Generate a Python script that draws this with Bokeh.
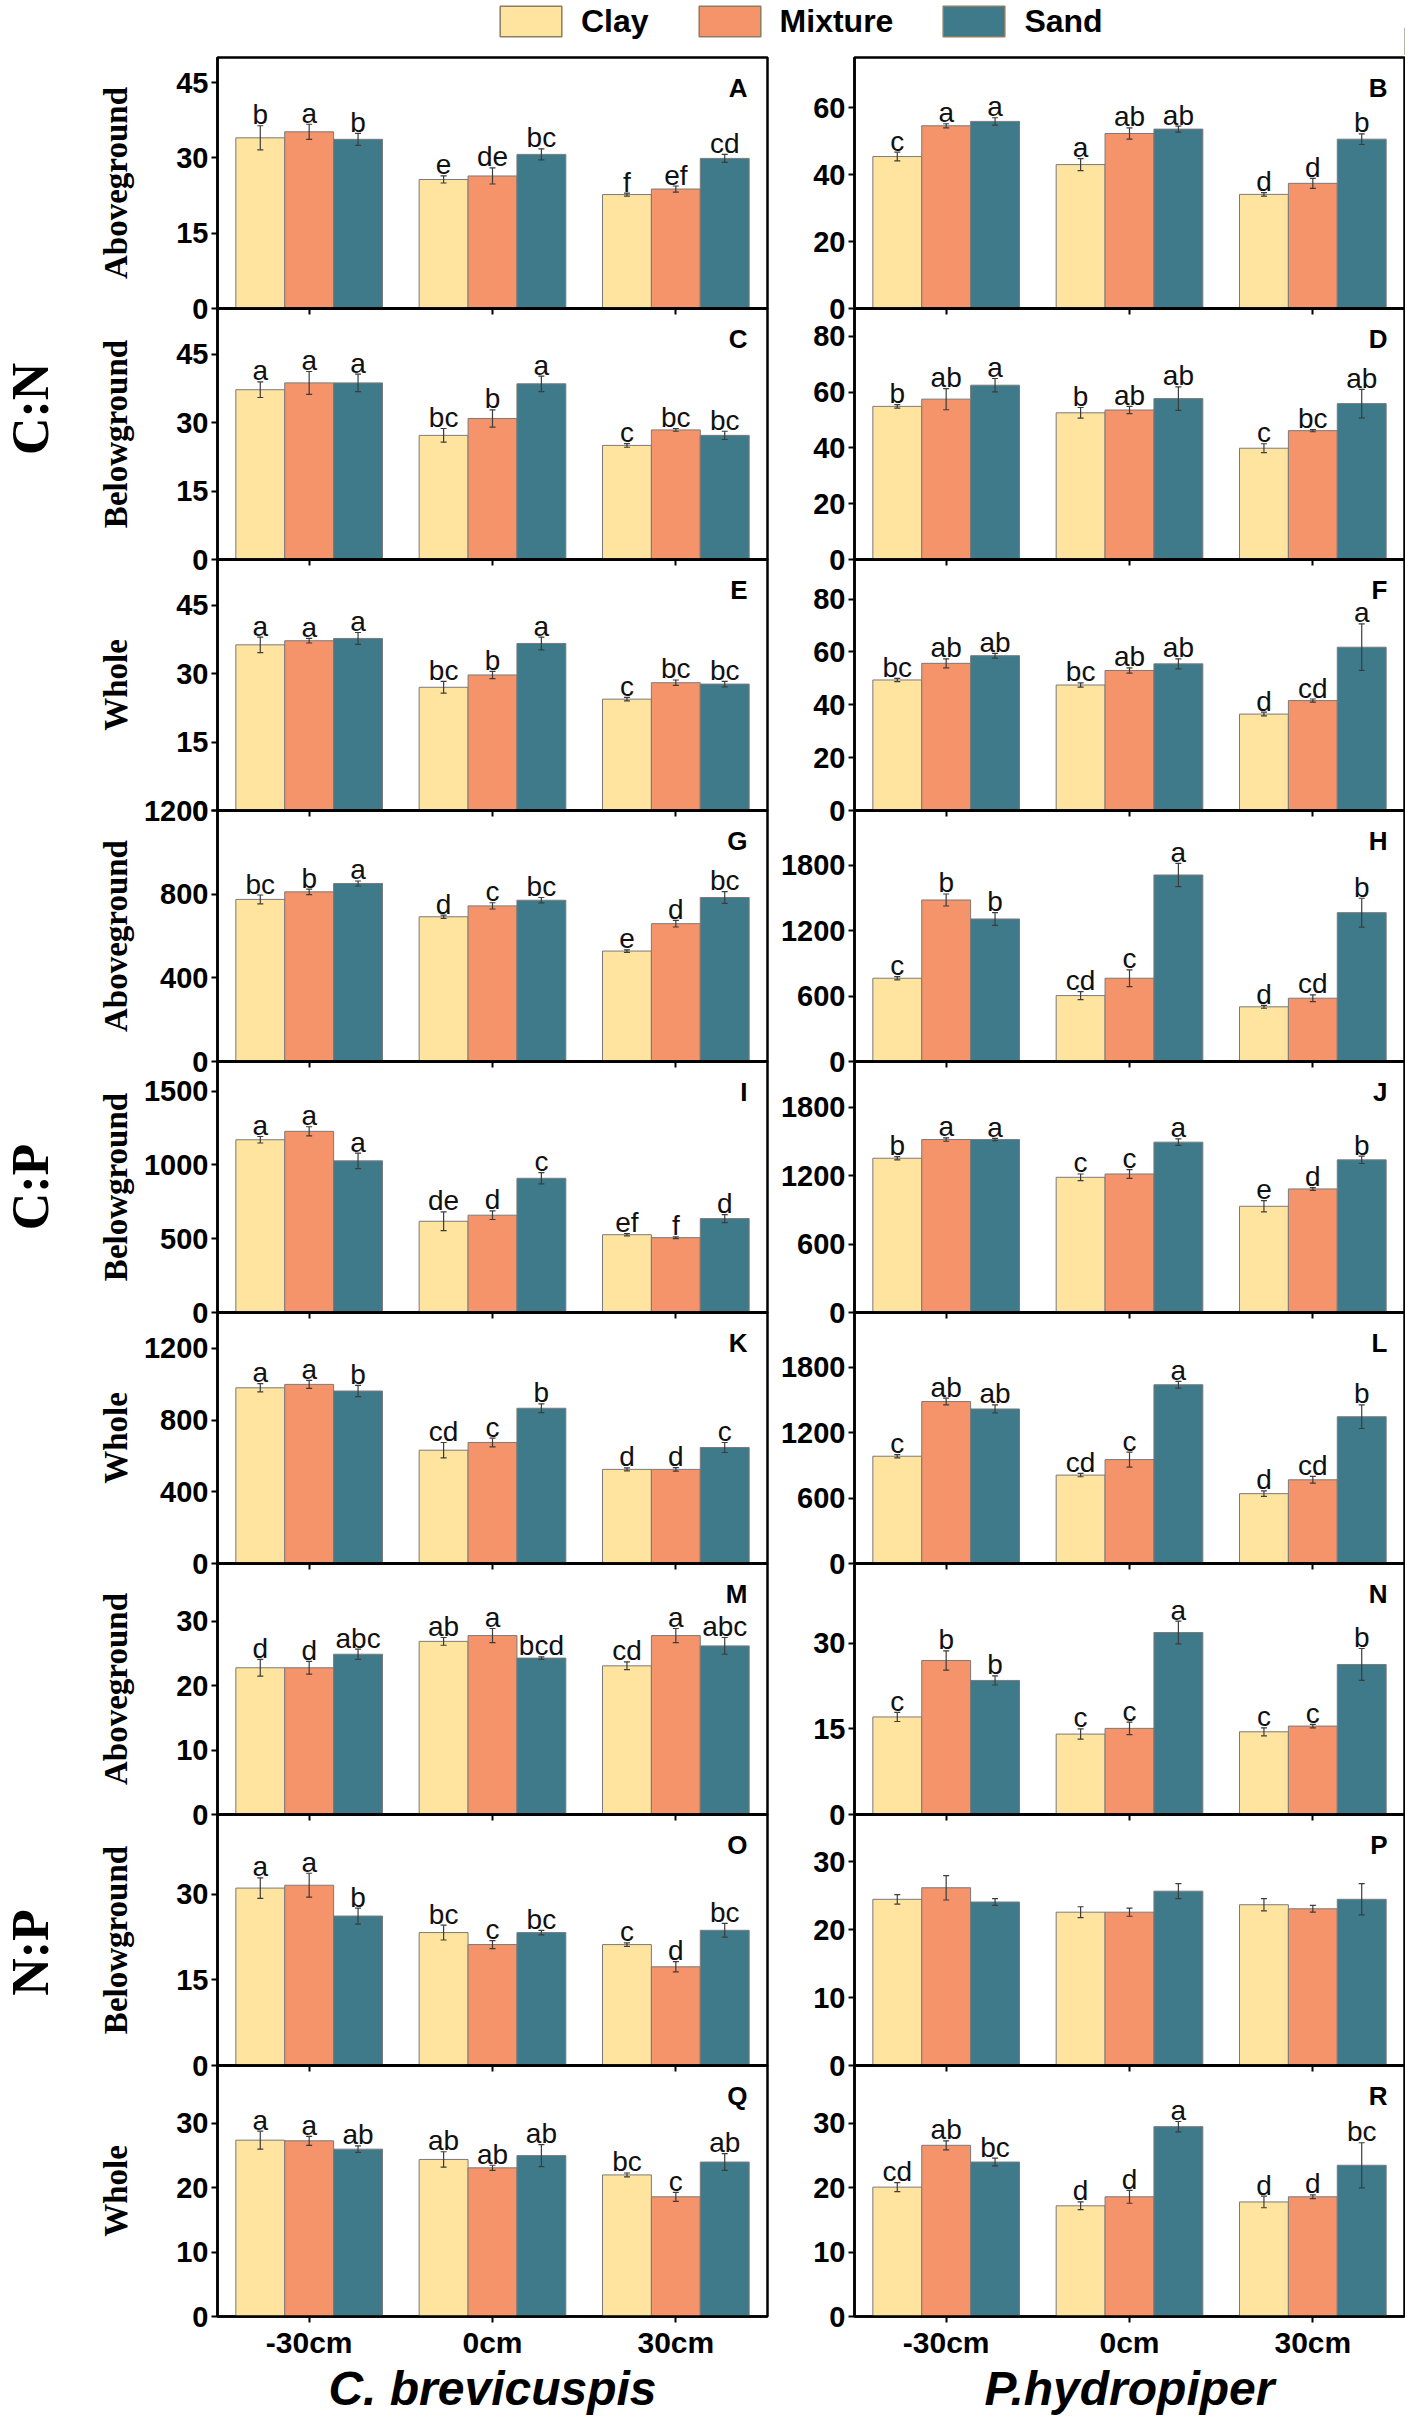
import math
from bokeh.plotting import figure
from bokeh.models import (ColumnDataSource, Range1d, FactorRange, FixedTicker, Whisker, TeeHead,
                          Label, Legend, LegendItem)
from bokeh.transform import dodge
from bokeh.layouts import column, row
from bokeh.embed import file_html
from bokeh.resources import INLINE
from bokeh.core.properties import value

# ---------------- data ----------------
depths = ["-30cm", "0cm", "30cm"]
soils = ["Clay", "Mixture", "Sand"]
species = ["C. brevicuspis", "P.hydropiper"]
ratios = ["C:N", "C:P", "N:P"]
ratio_rows = [7.6, 4.5, 1.45]          # vertical centre of each ratio label, in panel-row units
organs = ["Aboveground", "Belowground", "Whole"]

# C:N aboveground
A_clay, A_mix, A_sand = [34.0, 25.7, 22.7], [35.2, 26.4, 23.8], [33.7, 30.7, 29.9]
A_clay_se, A_mix_se, A_sand_se = [2.4, 0.7, 0.3], [1.5, 1.6, 0.6], [1.2, 1.1, 0.8]
A_clay_lab, A_mix_lab, A_sand_lab = ["b", "e", "f"], ["a", "de", "ef"], ["b", "bc", "cd"]
B_clay, B_mix, B_sand = [45.4, 43.0, 34.1], [54.6, 52.3, 37.4], [55.9, 53.6, 50.6]
B_clay_se, B_mix_se, B_sand_se = [1.3, 1.8, 0.5], [0.6, 1.7, 1.5], [1.1, 0.9, 1.6]
B_clay_lab, B_mix_lab, B_sand_lab = ["c", "a", "d"], ["a", "ab", "d"], ["a", "ab", "b"]
# C:N belowground
C_clay, C_mix, C_sand = [37.2, 27.2, 25.0], [38.7, 30.9, 28.4], [38.7, 38.5, 27.2]
C_clay_se, C_mix_se, C_sand_se = [1.7, 1.5, 0.4], [2.5, 1.9, 0.3], [1.9, 1.7, 0.9]
C_clay_lab, C_mix_lab, C_sand_lab = ["a", "bc", "c"], ["a", "b", "bc"], ["a", "a", "bc"]
D_clay, D_mix, D_sand = [54.9, 52.6, 39.9], [57.5, 53.6, 46.2], [62.5, 57.7, 55.9]
D_clay_se, D_mix_se, D_sand_se = [0.6, 1.9, 1.6], [3.8, 1.3, 0.4], [2.4, 4.2, 5.1]
D_clay_lab, D_mix_lab, D_sand_lab = ["b", "b", "c"], ["ab", "ab", "bc"], ["a", "ab", "ab"]
# C:N whole
E_clay, E_mix, E_sand = [36.3, 27.0, 24.4], [37.2, 29.7, 28.0], [37.7, 36.6, 27.7]
E_clay_se, E_mix_se, E_sand_se = [1.7, 1.3, 0.4], [0.5, 0.8, 0.6], [1.3, 1.4, 0.6]
E_clay_lab, E_mix_lab, E_sand_lab = ["a", "bc", "c"], ["a", "b", "bc"], ["a", "a", "bc"]
F_clay, F_mix, F_sand = [49.4, 47.5, 36.5], [55.7, 53.0, 41.6], [58.6, 55.5, 61.8]
F_clay_se, F_mix_se, F_sand_se = [0.6, 0.8, 0.7], [1.7, 1.0, 0.6], [0.9, 1.9, 8.8]
F_clay_lab, F_mix_lab, F_sand_lab = ["bc", "bc", "d"], ["ab", "ab", "cd"], ["ab", "ab", "a"]
# C:P aboveground
G_clay, G_mix, G_sand = [775, 692, 528], [811, 744, 659], [851, 771, 784]
G_clay_se, G_mix_se, G_sand_se = [21, 8, 6], [13, 15, 16], [12, 13, 28]
G_clay_lab, G_mix_lab, G_sand_lab = ["bc", "d", "e"], ["b", "c", "d"], ["a", "bc", "bc"]
H_clay, H_mix, H_sand = [763, 604, 501], [1480, 763, 580], [1306, 1709, 1364]
H_clay_se, H_mix_se, H_sand_se = [15, 37, 13], [55, 76, 31], [58, 107, 132]
H_clay_lab, H_mix_lab, H_sand_lab = ["c", "cd", "d"], ["b", "c", "cd"], ["b", "a", "b"]
# C:P belowground
I_clay, I_mix, I_sand = [1170, 618, 527], [1227, 659, 507], [1027, 909, 636]
I_clay_se, I_mix_se, I_sand_se = [22, 63, 8], [31, 29, 6], [52, 38, 27]
I_clay_lab, I_mix_lab, I_sand_lab = ["a", "de", "ef"], ["a", "d", "f"], ["a", "c", "d"]
J_clay, J_mix, J_sand = [1352, 1185, 931], [1516, 1214, 1083], [1516, 1493, 1338]
J_clay_se, J_mix_se, J_sand_se = [15, 29, 49], [15, 39, 12], [10, 29, 32]
J_clay_lab, J_mix_lab, J_sand_lab = ["b", "c", "e"], ["a", "c", "d"], ["a", "a", "b"]
# C:P whole
K_clay, K_mix, K_sand = [980, 632, 525], [999, 675, 525], [962, 866, 647]
K_clay_se, K_mix_se, K_sand_se = [23, 43, 8], [22, 24, 10], [31, 24, 28]
K_clay_lab, K_mix_lab, K_sand_lab = ["a", "cd", "d"], ["a", "c", "d"], ["b", "b", "c"]
L_clay, L_mix, L_sand = [983, 810, 640], [1484, 952, 767], [1416, 1638, 1345]
L_clay_se, L_mix_se, L_sand_se = [15, 15, 25], [31, 68, 31], [37, 31, 108]
L_clay_lab, L_mix_lab, L_sand_lab = ["c", "cd", "d"], ["ab", "c", "cd"], ["ab", "a", "b"]
# N:P aboveground
M_clay, M_mix, M_sand = [22.8, 26.9, 23.1], [22.8, 27.8, 27.8], [24.9, 24.3, 26.2]
M_clay_se, M_mix_se, M_sand_se = [1.3, 0.6, 0.6], [1.0, 1.1, 1.1], [0.8, 0.2, 1.3]
M_clay_lab, M_mix_lab, M_sand_lab = ["d", "ab", "cd"], ["d", "a", "a"], ["abc", "bcd", "abc"]
N_clay, N_mix, N_sand = [17.1, 14.1, 14.5], [27.0, 15.1, 15.5], [23.5, 31.9, 26.3]
N_clay_se, N_mix_se, N_sand_se = [0.8, 0.9, 0.7], [1.7, 1.1, 0.3], [0.8, 2.0, 2.8]
N_clay_lab, N_mix_lab, N_sand_lab = ["c", "c", "c"], ["b", "c", "c"], ["b", "a", "b"]
# N:P belowground
O_clay, O_mix, O_sand = [31.1, 23.3, 21.2], [31.6, 21.2, 17.3], [26.2, 23.3, 23.7]
O_clay_se, O_mix_se, O_sand_se = [1.8, 1.3, 0.3], [2.1, 0.7, 0.9], [1.4, 0.4, 1.2]
O_clay_lab, O_mix_lab, O_sand_lab = ["a", "bc", "c"], ["a", "c", "d"], ["b", "bc", "bc"]
P_clay, P_mix, P_sand = [24.5, 22.6, 23.7], [26.2, 22.6, 23.1], [24.1, 25.7, 24.5]
P_clay_se, P_mix_se, P_sand_se = [0.7, 0.8, 0.9], [1.8, 0.6, 0.5], [0.5, 1.1, 2.3]
P_clay_lab, P_mix_lab, P_sand_lab = ["", "", ""], ["", "", ""], ["", "", ""]
# N:P whole
Q_clay, Q_mix, Q_sand = [27.4, 24.4, 22.0], [27.3, 23.1, 18.6], [26.0, 25.0, 24.0]
Q_clay_se, Q_mix_se, Q_sand_se = [1.4, 1.2, 0.3], [0.7, 0.4, 0.7], [0.5, 1.7, 1.3]
Q_clay_lab, Q_mix_lab, Q_sand_lab = ["a", "ab", "bc"], ["a", "ab", "c"], ["ab", "ab", "ab"]
R_clay, R_mix, R_sand = [20.1, 17.2, 17.8], [26.6, 18.6, 18.6], [24.0, 29.5, 23.5]
R_clay_se, R_mix_se, R_sand_se = [0.7, 0.6, 0.9], [0.7, 1.0, 0.3], [0.6, 0.8, 3.5]
R_clay_lab, R_mix_lab, R_sand_lab = ["cd", "d", "d"], ["ab", "d", "d"], ["bc", "a", "bc"]

# axis ranges / ticks per panel
y_max = {"A": 50, "B": 75, "C": 55, "D": 90, "E": 55, "F": 95, "G": 1200, "H": 2300, "I": 1700,
         "J": 2200, "K": 1400, "L": 2300, "M": 39, "N": 44, "O": 44, "P": 37, "Q": 39, "R": 39}
y_ticks = {"A": [0, 15, 30, 45], "B": [0, 20, 40, 60], "C": [0, 15, 30, 45], "D": [0, 20, 40, 60, 80],
           "E": [0, 15, 30, 45], "F": [0, 20, 40, 60, 80], "G": [0, 400, 800, 1200],
           "H": [0, 600, 1200, 1800], "I": [0, 500, 1000, 1500], "J": [0, 600, 1200, 1800],
           "K": [0, 400, 800, 1200], "L": [0, 600, 1200, 1800], "M": [0, 10, 20, 30],
           "N": [0, 15, 30], "O": [0, 15, 30], "P": [0, 10, 20, 30], "Q": [0, 10, 20, 30],
           "R": [0, 10, 20, 30]}

# ---------------- style ----------------
COLORS = ["#FEE49E", "#F5936A", "#3F7A8B"]
FONT = "Liberation Sans"
SERIF = "Liberation Serif"
FW, FH = 550, 251          # frame size
T = 16                      # overlapping border
STRIP_W = 60
LEFT_B, GAP_B = 217 - STRIP_W, 85
BOTTOM_B = 99
BAR_W = 0.8 / 3
TICK_FS = 29

G_ = globals()


def make_panel(key, col, r):
    first, last, left = r == 0, r == 8, col == 0
    ymax = y_max[key]
    p = figure(x_range=FactorRange(*depths), y_range=Range1d(0, ymax),
               frame_width=FW, frame_height=FH, output_backend="svg", toolbar_location=None,
               min_border_left=LEFT_B if left else GAP_B, min_border_right=2 if left else 1,
               min_border_top=2 if first else T, min_border_bottom=BOTTOM_B if last else T,
               background_fill_color=None, border_fill_color=None,
               outline_line_color="black", outline_line_width=2.5)
    if not first:
        p.margin = (-2 * T, 0, 0, 0)
    p.xgrid.visible = False
    p.ygrid.visible = False

    names = ["clay", "mix", "sand"]
    data = dict(depth=depths)
    px = ymax / FH
    for n in names:
        vals = G_[f"{key}_{n}"]
        se = G_[f"{key}_{n}_se"]
        data[n] = vals
        data[n + "_up"] = [v + s for v, s in zip(vals, se)]
        data[n + "_lo"] = [v - s for v, s in zip(vals, se)]
        data[n + "_ty"] = [v + s + 11 * px for v, s in zip(vals, se)]
        data[n + "_lab"] = G_[f"{key}_{n}_lab"]
    src = ColumnDataSource(data)

    offs = [-BAR_W, 0, BAR_W]
    for n, off, c in zip(names, offs, COLORS):
        p.vbar(x=dodge("depth", off, range=p.x_range), top=n, width=BAR_W, source=src,
               fill_color=c, line_color="#7a7a7a", line_width=1)
        w = Whisker(source=src, base=dodge("depth", off, range=p.x_range), upper=n + "_up",
                    lower=n + "_lo", line_color="#3c3c3c", line_width=1.2, level="overlay",
                    upper_head=TeeHead(size=6, line_color="#3c3c3c", line_width=1.2),
                    lower_head=TeeHead(size=6, line_color="#3c3c3c", line_width=1.2))
        p.add_layout(w)
        p.text(x=dodge("depth", off, range=p.x_range), y=n + "_ty", text=n + "_lab", source=src,
               text_align="center", text_baseline="alphabetic", text_font=value(FONT),
               text_font_size="28px", text_color="#111111")

    # y axis
    ya = p.yaxis[0]
    ya.ticker = FixedTicker(ticks=y_ticks[key])
    ya.major_label_text_font = FONT
    ya.major_label_text_font_style = "bold"
    ya.major_label_text_font_size = f"{TICK_FS}px"
    ya.major_label_text_color = "black"
    ya.major_label_standoff = 3
    ya.major_tick_out = 6
    ya.major_tick_in = 0
    ya.minor_tick_out = 0
    ya.minor_tick_in = 0
    ya.major_tick_line_width = 2
    ya.axis_line_width = 2.5
    if left:
        ya.axis_label = organs[r % 3]
        ya.axis_label_text_font = SERIF
        ya.axis_label_text_font_style = "bold"
        ya.axis_label_text_font_size = "33px"
        ya.axis_label_text_color = "black"
        w_lab = max(len(str(t)) for t in y_ticks[key]) * 0.556 * TICK_FS
        ya.axis_label_standoff = max(2, int(round(98 - 6 - 3 - w_lab - 18)))

    # x axis
    xa = p.xaxis[0]
    xa.major_tick_out = 6
    xa.major_tick_in = 0
    xa.major_tick_line_width = 2
    xa.axis_line_width = 2.5
    if last:
        xa.major_label_text_font = FONT
        xa.major_label_text_font_style = "bold"
        xa.major_label_text_font_size = "30px"
        xa.major_label_text_color = "black"
        xa.major_label_standoff = 3
        xa.axis_label = species[col]
        xa.axis_label_text_font = FONT
        xa.axis_label_text_font_style = "bold italic"
        xa.axis_label_text_font_size = "48px"
        xa.axis_label_text_color = "black"
        xa.axis_label_standoff = 0
    else:
        xa.major_label_text_font_size = "0px"
        xa.major_label_text_color = None
        xa.major_label_standoff = 0

    # panel letter
    cat_px = FW / 3
    p.add_layout(Label(x=3 - (20 if left else 17) / cat_px, y=ymax * (1 - 30 / FH), text=key,
                       text_align="right", text_baseline="middle", text_font=FONT,
                       text_font_style="bold", text_font_size="26px", text_color="black"))
    return p


left_keys = ["A", "C", "E", "G", "I", "K", "M", "O", "Q"]
right_keys = ["B", "D", "F", "H", "J", "L", "N", "P", "R"]
left_figs = [make_panel(k, 0, i) for i, k in enumerate(left_keys)]
right_figs = [make_panel(k, 1, i) for i, k in enumerate(right_keys)]

# strip on the far left with the ratio names
strip = figure(frame_width=STRIP_W, frame_height=9 * FH, x_range=Range1d(0, 1), y_range=Range1d(0, 9),
               toolbar_location=None, output_backend="svg", min_border_left=0, min_border_right=0,
               min_border_top=2, min_border_bottom=BOTTOM_B, outline_line_color=None,
               background_fill_color=None, border_fill_color=None)
strip.axis.visible = False
strip.xgrid.visible = False
strip.ygrid.visible = False
strip.text(x=[0.5] * 3, y=ratio_rows, text=ratios, angle=math.pi / 2,
           text_align="center", text_baseline="middle", text_font=value(SERIF),
           text_font_style="bold", text_font_size="52px", text_color="black")

# header with legend
header = figure(width=1405, height=55, x_range=Range1d(0, 1), y_range=Range1d(0, 1),
                toolbar_location=None, output_backend="svg", min_border=0,
                outline_line_color=None, background_fill_color=None, border_fill_color=None)
header.axis.visible = False
header.xgrid.visible = False
header.ygrid.visible = False
rends = [header.vbar(x=[5], top=[0.5], width=0.1, fill_color=c, line_color="#8c7d62", line_width=1.5)
         for c in COLORS]
legend = Legend(items=[LegendItem(label=s, renderers=[rr]) for s, rr in zip(soils, rends)],
                orientation="horizontal", location=(492, 15), glyph_width=77, glyph_height=38,
                label_height=38, label_standoff=12, spacing=42, padding=0, margin=0,
                border_line_color=None, background_fill_alpha=0, label_text_font=FONT,
                label_text_font_style="bold", label_text_font_size="32px",
                label_text_color="black")
header.add_layout(legend)

layout = column(header, row(strip, column(*left_figs), column(*right_figs)))

with open("out.html", "w") as f:
    f.write(file_html(layout, INLINE))
